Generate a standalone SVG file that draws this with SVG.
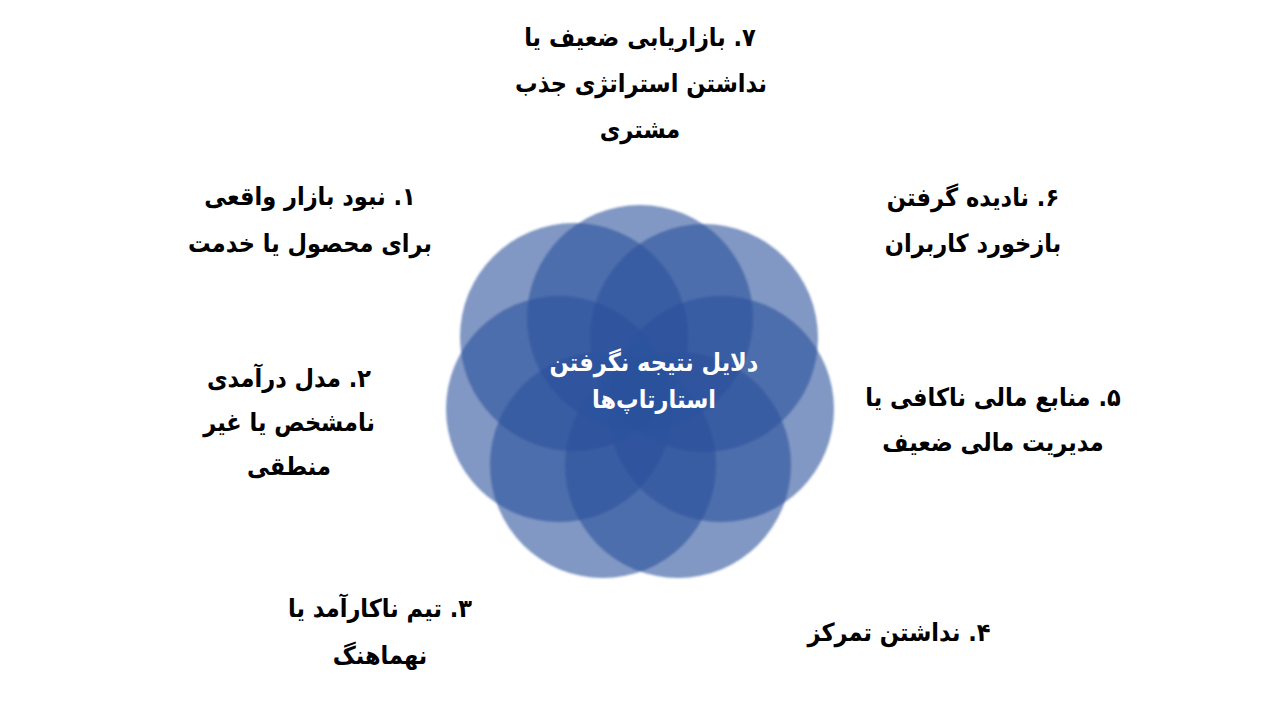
<svg xmlns="http://www.w3.org/2000/svg" width="1280" height="720" viewBox="0 0 1280 720">
<defs>
<style>
.c{fill:#2B519C;fill-opacity:0.6}
.l{font-family:"DejaVu Sans Condensed","DejaVu Sans",sans-serif;font-weight:bold;font-size:25px;fill:#000;text-anchor:middle;direction:rtl}
.t{font-family:"DejaVu Sans Condensed","DejaVu Sans",sans-serif;font-weight:bold;font-size:25px;fill:#fff;text-anchor:middle;direction:rtl}
</style>
<filter id="soft" x="-10%" y="-10%" width="120%" height="120%"><feGaussianBlur stdDeviation="1.2"/></filter>
</defs>
<rect width="1280" height="720" fill="#fff"/>
<g id="circles" filter="url(#soft)">
<circle class="c" cx="640" cy="318" r="113"/>
<circle class="c" cx="704" cy="338" r="114"/>
<circle class="c" cx="721" cy="409" r="113"/>
<circle class="c" cx="678" cy="465" r="113"/>
<circle class="c" cx="603" cy="465" r="113"/>
<circle class="c" cx="559" cy="409" r="113"/>
<circle class="c" cx="574" cy="337" r="114"/>
</g>
<g id="center"><text class="t" x="654" y="371">دلایل نتیجه نگرفتن</text><text class="t" x="654" y="408">استارتاپ‌ها</text></g>
<g id="n7"><text class="l" x="640" y="46">۷. بازاریابی ضعیف یا</text><text class="l" x="641" y="92">نداشتن استراتژی جذب</text><text class="l" x="640" y="138">مشتری</text></g>
<g id="n1"><text class="l" x="310" y="205">۱. نبود بازار واقعی</text><text class="l" x="310" y="252">برای محصول یا خدمت</text></g>
<g id="n2"><text class="l" x="289" y="387">۲. مدل درآمدی</text><text class="l" x="289" y="431">نامشخص یا غیر</text><text class="l" x="289" y="475">منطقی</text></g>
<g id="n3"><text class="l" x="380" y="617">۳. تیم ناکارآمد یا</text><text class="l" x="380" y="664">نهماهنگ</text></g>
<g id="n4"><text class="l" x="899" y="641">۴. نداشتن تمرکز</text></g>
<g id="n5"><text class="l" x="993" y="406">۵. منابع مالی ناکافی یا</text><text class="l" x="993" y="451">مدیریت مالی ضعیف</text></g>
<g id="n6"><text class="l" x="973" y="206">۶. نادیده گرفتن</text><text class="l" x="973" y="252">بازخورد کاربران</text></g>
</svg>
